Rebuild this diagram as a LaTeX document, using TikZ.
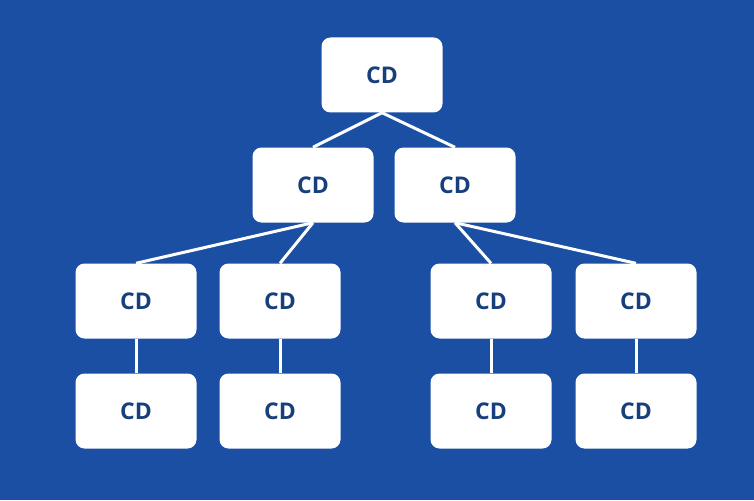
\documentclass[tikz,border=0pt]{standalone}
\usepackage{fontspec}
\setmainfont{Open Sans}
\definecolor{bg}{HTML}{1A4FA3}
\definecolor{txt}{HTML}{163F7C}
\begin{document}
\begin{tikzpicture}[x=1pt,y=-1pt,
  cdbox/.style={fill=white,rounded corners=9pt,minimum width=121pt,minimum height=75pt,inner sep=0pt,
    font=\fontsize{23}{27}\bfseries\selectfont,text=txt},
  link/.style={draw=white,line width=3pt}]
\fill[bg] (0,0) rectangle (754,500);
\useasboundingbox (0,0) rectangle (754,500);
\node[cdbox] (r) at (382,75) {CD};
\node[cdbox] (a) at (313,185) {CD};
\node[cdbox] (b) at (455,185) {CD};
\node[cdbox] (a1) at (136,301) {CD};
\node[cdbox] (a2) at (280,301) {CD};
\node[cdbox] (b1) at (491,301) {CD};
\node[cdbox] (b2) at (636,301) {CD};
\node[cdbox] (c1) at (136,411) {CD};
\node[cdbox] (c2) at (280,411) {CD};
\node[cdbox] (c3) at (491,411) {CD};
\node[cdbox] (c4) at (636,411) {CD};
\path[link] (r.south) -- (a.north);
\path[link] (r.south) -- (b.north);
\path[link] (a.south) -- (a1.north);
\path[link] (a.south) -- (a2.north);
\path[link] (b.south) -- (b1.north);
\path[link] (b.south) -- (b2.north);
\path[link] (a1.south) -- (c1.north);
\path[link] (a2.south) -- (c2.north);
\path[link] (b1.south) -- (c3.north);
\path[link] (b2.south) -- (c4.north);
\end{tikzpicture}
\end{document}
